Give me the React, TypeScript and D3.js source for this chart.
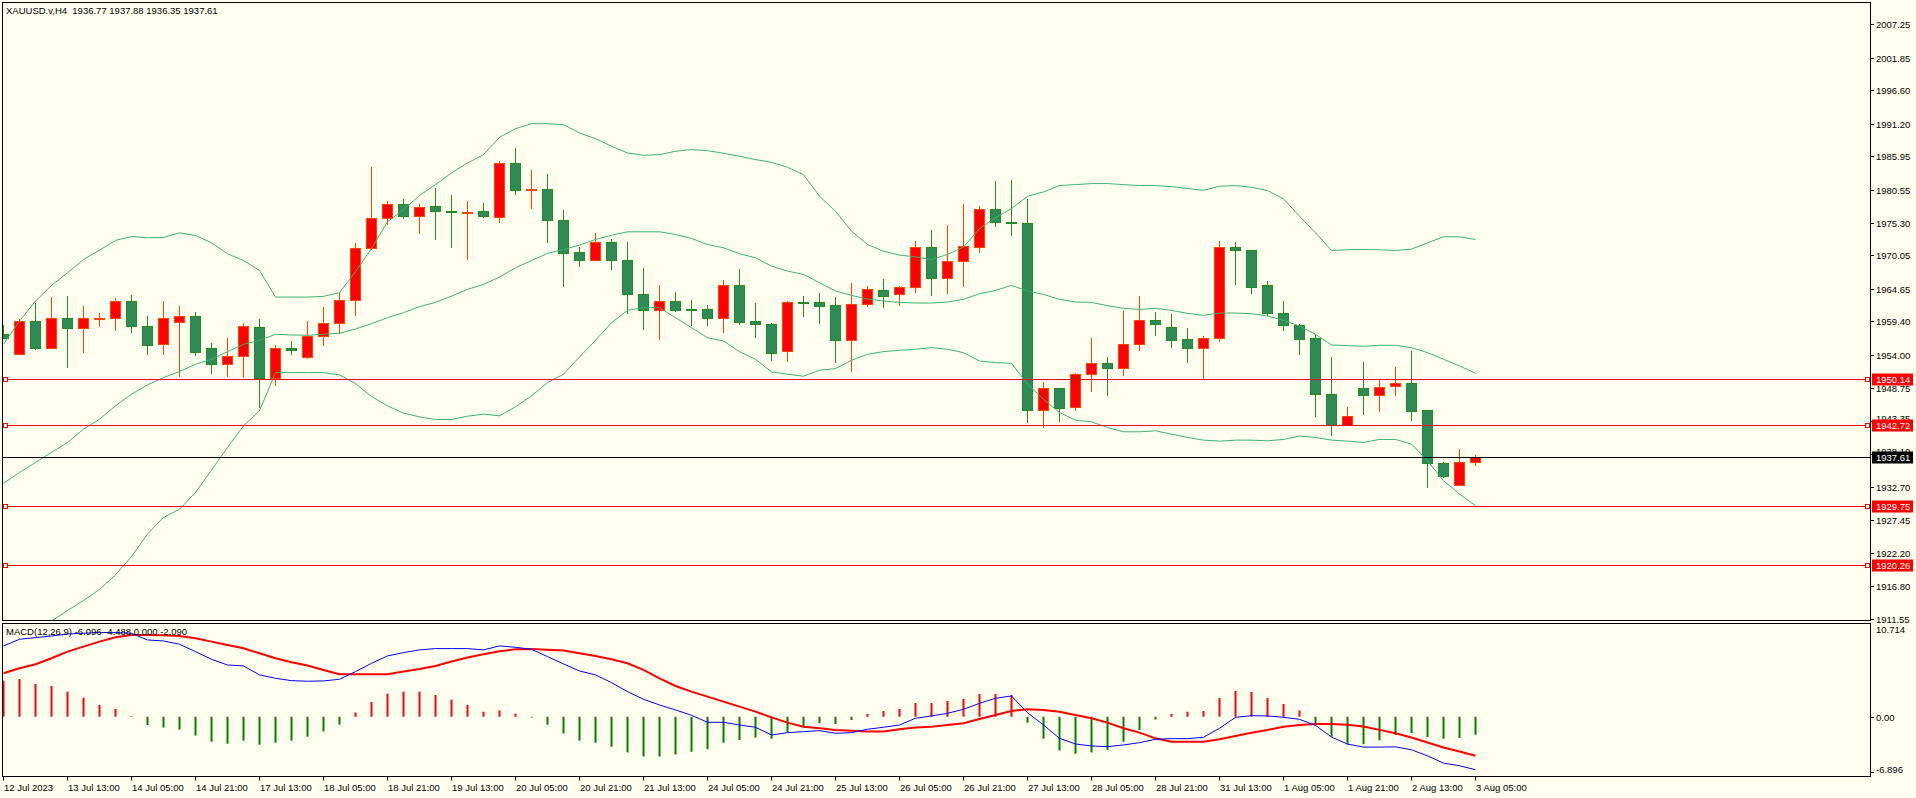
import React from 'react';
import * as d3 from 'd3';

const chartTitle = 'XAUUSD.v,H4  1936.77 1937.88 1936.35 1937.61';
const macdTitle = 'MACD(12,26,9) -6.096 -4.488 0.000 -2.090';

const opens = [1957.32,1954.21,1959.46,1955.17,1959.89,1958.39,1959.92,1959.89,1962.67,1958.60,
1955.82,1959.35,1960.21,1955.07,1952.50,1953.78,1958.49,1950.36,1955.12,1953.73,
1957.00,1959.08,1962.78,1971.13,1976.11,1978.36,1976.43,1978.04,1977.10,1976.95,
1977.13,1976.22,1984.84,1980.62,1980.77,1975.79,1970.49,1969.20,1972.10,1969.20,
1963.74,1961.28,1962.62,1961.40,1961.33,1959.89,1965.19,1959.40,1958.92,1954.58,
1962.50,1962.46,1961.97,1956.46,1962.14,1964.38,1963.74,1964.87,1971.29,1966.42,
1969.04,1971.29,1977.56,1975.40,1975.15,1945.11,1948.64,1945.59,1950.89,1952.66,
1951.85,1955.71,1959.57,1958.44,1956.51,1955.07,1956.67,1971.29,1970.81,1965.19,
1960.69,1958.76,1956.73,1947.68,1942.80,1948.64,1947.62,1948.96,1949.44,1945.11,
1936.59,1933.06,1936.77];
const highs = [1958.81,1959.73,1962.35,1963.31,1963.47,1961.87,1960.74,1963.21,1963.63,1960.26,
1962.67,1961.87,1960.96,1955.92,1956.73,1959.14,1959.78,1955.60,1956.25,1959.46,
1961.71,1964.01,1971.99,1984.20,1978.74,1979.06,1978.25,1980.82,1979.70,1978.74,
1978.41,1985.16,1987.25,1983.72,1983.07,1977.29,1971.35,1973.59,1972.63,1972.15,
1967.97,1965.24,1964.12,1962.83,1962.03,1966.04,1967.81,1962.35,1959.14,1962.67,
1963.47,1963.96,1963.31,1965.56,1965.08,1966.21,1965.08,1972.31,1974.08,1974.88,
1978.25,1977.93,1981.95,1982.11,1979.06,1949.66,1948.70,1951.10,1956.73,1953.68,
1961.06,1963.47,1960.90,1960.58,1958.33,1957.05,1972.31,1972.15,1970.85,1965.88,
1962.67,1958.98,1957.26,1953.68,1945.54,1952.87,1950.03,1952.07,1954.64,1945.20,
1936.81,1938.90,1937.88];
const lows = [1956.65,1954.21,1954.96,1955.10,1952.07,1954.53,1958.65,1958.07,1957.74,1954.21,
1954.21,1950.62,1954.00,1951.16,1950.62,1950.46,1945.54,1949.18,1954.21,1953.57,
1955.60,1957.48,1960.48,1971.10,1975.09,1976.06,1973.65,1972.68,1971.40,1969.47,
1976.22,1975.42,1979.91,1977.66,1972.20,1965.13,1968.35,1969.20,1967.87,1960.80,
1958.23,1956.62,1961.12,1958.87,1958.87,1957.74,1959.03,1956.94,1953.25,1953.09,
1960.31,1959.19,1952.93,1951.48,1961.87,1961.76,1962.08,1964.12,1963.69,1963.96,
1965.08,1970.54,1974.77,1973.33,1943.13,1942.48,1943.29,1945.21,1948.27,1947.57,
1950.78,1954.85,1957.26,1955.34,1952.93,1950.36,1956.30,1965.46,1964.01,1960.48,
1958.07,1954.21,1944.25,1941.04,1942.80,1944.57,1945.00,1947.62,1943.45,1932.68,
1934.29,1933.00,1936.35];
const closes = [1956.80,1959.46,1955.17,1959.89,1958.39,1959.89,1960.00,1962.67,1958.71,1955.66,
1959.89,1960.21,1954.53,1952.50,1953.78,1958.60,1950.36,1955.07,1954.75,1957.05,
1959.08,1962.78,1971.13,1976.11,1978.36,1976.38,1977.88,1977.08,1977.00,1977.05,
1976.38,1984.84,1980.56,1980.72,1975.79,1970.33,1969.20,1972.10,1969.20,1963.74,
1961.28,1962.62,1961.28,1961.30,1959.89,1965.19,1959.35,1958.92,1954.37,1962.46,
1962.40,1961.92,1956.46,1962.14,1964.55,1963.53,1964.87,1971.29,1966.42,1969.04,
1971.45,1977.56,1975.47,1975.31,1945.11,1948.64,1945.43,1950.89,1952.66,1951.85,
1955.71,1959.57,1959.03,1956.46,1955.07,1956.67,1971.29,1970.81,1964.97,1960.80,
1958.76,1956.62,1947.68,1942.80,1944.14,1947.62,1948.80,1949.44,1944.95,1936.59,
1934.51,1936.75,1937.61];

const bbUpper = [1955.71,1959.46,1962.67,1965.19,1967.22,1969.36,1970.86,1972.42,1973.06,1972.85,
1972.90,1973.65,1973.22,1972.04,1970.28,1969.20,1967.60,1963.31,1963.31,1963.31,
1963.42,1964.01,1967.38,1971.13,1975.42,1977.40,1979.65,1981.41,1983.29,1984.89,
1986.23,1989.02,1990.41,1991.21,1991.21,1991.05,1989.71,1988.80,1987.57,1986.50,
1986.13,1986.23,1986.77,1987.04,1986.87,1986.45,1985.96,1985.43,1985.00,1984.20,
1983.02,1979.54,1977.13,1973.92,1971.77,1970.70,1970.06,1969.79,1969.36,1970.17,
1971.35,1974.34,1976.06,1977.56,1979.54,1980.23,1981.25,1981.41,1981.57,1981.57,
1981.41,1981.25,1981.25,1981.09,1980.77,1980.50,1981.15,1981.25,1980.98,1980.45,
1979.11,1976.33,1973.65,1970.81,1970.92,1970.97,1970.92,1970.81,1971.02,1972.04,
1973.01,1973.01,1972.58];
const bbMiddle = [1933.33,1935.09,1936.70,1938.31,1939.91,1942.06,1943.66,1945.80,1947.68,1949.18,
1950.36,1951.32,1952.50,1953.30,1954.53,1955.71,1956.35,1957.32,1957.21,1957.16,
1957.32,1957.48,1958.17,1959.03,1959.99,1960.80,1961.76,1962.46,1963.47,1964.55,
1965.35,1966.53,1968.03,1969.20,1970.33,1970.97,1971.67,1972.58,1973.27,1973.81,
1973.81,1973.81,1973.38,1972.74,1971.77,1971.24,1970.28,1969.63,1968.29,1967.49,
1966.95,1965.62,1964.28,1963.58,1962.99,1962.67,1962.46,1962.35,1962.35,1962.51,
1962.94,1963.85,1964.38,1965.19,1964.28,1963.74,1962.94,1962.51,1962.46,1961.92,
1961.49,1961.33,1961.49,1961.17,1960.69,1960.37,1960.74,1960.74,1960.64,1960.26,
1959.57,1958.65,1957.32,1955.60,1955.50,1955.39,1955.55,1955.55,1955.17,1954.37,
1953.30,1952.23,1951.05];
const bbLower = [1909.12,1909.66,1910.30,1911.16,1912.87,1914.48,1916.25,1918.60,1921.55,1925.19,
1927.86,1929.15,1931.88,1935.47,1939.11,1942.59,1945.00,1951.16,1951.16,1951.16,
1951.16,1950.78,1949.39,1947.30,1945.80,1944.63,1944.04,1943.61,1943.61,1944.14,
1944.46,1944.20,1945.64,1947.41,1949.55,1950.89,1953.68,1956.35,1959.19,1961.17,
1961.60,1961.60,1959.99,1958.39,1956.78,1956.25,1954.53,1953.30,1951.27,1950.89,
1950.57,1951.53,1951.80,1953.14,1954.10,1954.53,1954.75,1954.91,1955.17,1954.91,
1954.37,1953.03,1952.76,1952.66,1949.28,1946.87,1944.73,1943.50,1943.23,1942.32,
1941.63,1941.63,1941.79,1941.25,1940.72,1940.29,1940.13,1940.29,1940.29,1940.18,
1940.40,1940.93,1940.72,1940.29,1940.13,1939.91,1940.40,1940.40,1939.65,1936.97,
1933.76,1931.61,1929.74];

const macdMain = [8.12,8.88,9.07,9.26,9.49,9.57,9.65,9.65,9.57,8.80,
8.69,8.31,7.46,6.58,5.93,5.82,4.79,4.40,4.13,4.06,
4.10,4.29,5.17,6.12,6.97,7.35,7.66,7.81,7.81,7.81,
7.66,8.12,7.96,7.73,6.89,6.05,5.24,4.79,3.90,2.87,
1.99,1.34,0.77,0.15,-0.65,-0.65,-0.96,-1.22,-2.11,-1.84,
-1.72,-1.61,-1.91,-1.84,-1.45,-1.22,-0.96,-0.19,0.08,0.38,
0.84,1.53,2.11,2.37,0.45,-0.96,-2.49,-3.14,-3.37,-3.45,
-3.25,-2.99,-2.60,-2.53,-2.53,-2.37,-1.34,-0.08,0.11,0.08,
-0.08,-0.31,-1.00,-2.35,-3.15,-3.50,-3.50,-3.47,-3.81,-4.50,
-5.34,-5.64,-6.096];
const macdSignal = [4.98,5.55,6.01,6.70,7.46,8.04,8.61,9.11,9.38,9.38,
9.34,9.26,9.00,8.61,8.23,7.85,7.27,6.70,6.24,5.86,
5.36,4.86,4.86,4.86,4.86,5.17,5.47,5.82,6.32,6.78,
7.16,7.50,7.73,7.77,7.69,7.58,7.27,6.97,6.58,6.12,
5.36,4.40,3.52,2.87,2.30,1.72,1.15,0.57,-0.08,-0.69,
-1.15,-1.34,-1.53,-1.61,-1.72,-1.72,-1.45,-1.26,-1.15,-0.96,
-0.77,-0.27,0.19,0.65,0.84,0.77,0.57,0.19,-0.19,-0.69,
-1.34,-1.84,-2.49,-2.87,-2.87,-2.87,-2.60,-2.22,-1.84,-1.53,
-1.15,-0.96,-0.84,-0.84,-0.93,-1.14,-1.52,-1.91,-2.40,-2.97,
-3.55,-4.00,-4.488];
const macdHist = [4.13,4.33,3.75,3.52,2.87,2.18,1.34,0.88,0.08,-0.96,
-1.26,-1.49,-2.18,-2.87,-3.10,-2.76,-3.22,-2.99,-2.76,-2.30,
-1.72,-0.92,0.46,1.68,2.64,2.87,2.87,2.49,1.95,1.34,
0.57,0.69,0.34,-0.11,-0.92,-1.95,-2.76,-2.99,-3.45,-4.13,
-4.59,-4.59,-4.36,-4.02,-3.75,-2.99,-2.68,-2.41,-2.53,-1.76,
-1.22,-0.77,-0.84,-0.38,0.31,0.65,0.88,1.57,1.57,1.80,
2.03,2.60,2.60,2.49,-0.69,-2.53,-3.90,-4.25,-4.13,-3.79,
-2.87,-1.53,-0.34,0.31,0.57,0.65,2.14,2.95,2.83,2.14,
1.45,0.69,-0.73,-2.30,-3.20,-3.18,-2.72,-2.10,-1.87,-2.33,
-2.55,-2.44,-2.090];

const timeLabels = ['12 Jul 2023','13 Jul 13:00','14 Jul 05:00','14 Jul 21:00','17 Jul 13:00','18 Jul 05:00',
'18 Jul 21:00','19 Jul 13:00','20 Jul 05:00','20 Jul 21:00','21 Jul 13:00','24 Jul 05:00','24 Jul 21:00',
'25 Jul 13:00','26 Jul 05:00','26 Jul 21:00','27 Jul 13:00','28 Jul 05:00','28 Jul 21:00','31 Jul 13:00',
'1 Aug 05:00','1 Aug 21:00','2 Aug 13:00','3 Aug 05:00'];
const timeLabelBars = [0,4,8,12,16,20,24,28,32,36,40,44,48,52,56,60,64,68,72,76,80,84,88,92];

const priceTicks = ['2007.25','2001.85','1996.60','1991.20','1985.95','1980.55','1975.30','1970.05','1964.65',
'1959.40','1954.00','1948.75','1943.35','1938.10','1932.70','1927.45','1922.20','1916.80','1911.55'];
const levelLines = [1950.14, 1942.72, 1929.75, 1920.26];
const bidPrice = 1937.61;
const macdMax = 10.714;
const macdMin = -6.896;

const FONT = '"Liberation Sans", Arial, sans-serif';
const BG = '#FFFFF0';
const BULL_FILL = '#FF0000';
const BULL_LINE = '#FF4500';
const BEAR_FILL = '#2E8B57';
const BEAR_LINE = '#228B22';
const BAND = '#3CB371';

export default function App() {
  const W = 1916, H = 798;
  const L = 2.5, R = 1870.5;
  const mainTop = 2.5, mainBot = 620.5;
  const macdTop = 623.5, macdBot = 776.5;

  const idx = d3.range(closes.length);
  const xs = d3.scaleLinear().domain([0, closes.length - 1]).range([3.3, 1475.3]);
  const y = d3.scaleLinear().domain([1911.23, 2010.68]).range([620.7, 2.7]);
  const ym = d3.scaleLinear().domain([macdMin, macdMax]).range([776.7, 623.3]);
  const cx = (i: number) => Math.floor(xs(i)) + 0.5;
  const cy = (v: number) => Math.round(y(v)) + 0.5;

  const bandLine = (arr: number[]) =>
    d3.line<number>().x((i) => cx(i)).y((i) => y(arr[i]))(idx) || '';
  const macdLine = (arr: number[]) =>
    d3.line<number>().x((i) => cx(i)).y((i) => ym(arr[i]))(idx) || '';

  const txt = { fontFamily: FONT, fontSize: 9.5, fill: '#000' } as const;
  const hiddenTicks = new Set(['1943.35', '1938.10']);

  return (
    <svg width={W} height={H} style={{ position: 'absolute', left: 0, top: 0, display: 'block' }}>
      <defs>
        <clipPath id="mainClip"><rect x={L} y={mainTop} width={R - L} height={mainBot - mainTop} /></clipPath>
        <clipPath id="macdClip"><rect x={L} y={macdTop} width={R - L} height={macdBot - macdTop} /></clipPath>
      </defs>
      <rect x={0} y={0} width={W} height={H} fill={BG} />

      {/* main panel */}
      <g clipPath="url(#mainClip)">
        {idx.map((i) => {
          const o = opens[i], c = closes[i];
          const up = c > o;
          const x = cx(i);
          const top = Math.round(y(Math.max(o, c))) + 0.5;
          const bot = Math.max(top + 1, Math.round(y(Math.min(o, c))) + 0.5);
          return (
            <g key={i}>
              <line x1={x} x2={x} y1={Math.round(y(highs[i]))} y2={Math.round(y(lows[i])) + 1}
                stroke={up ? BULL_LINE : BEAR_LINE} strokeWidth={1} />
              <rect x={x - 5} y={top} width={10} height={bot - top}
                fill={up ? BULL_FILL : BEAR_FILL} stroke={up ? BULL_LINE : BEAR_LINE} strokeWidth={1} />
            </g>
          );
        })}
        {[bbUpper, bbMiddle, bbLower].map((arr, j) => (
          <path key={j} d={bandLine(arr)} fill="none" stroke={BAND} strokeWidth={1} />
        ))}
        {levelLines.map((p) => (
          <line key={p} x1={L} x2={R} y1={cy(p)} y2={cy(p)} stroke="#FF0000" strokeWidth={1} />
        ))}
        <line x1={L} x2={R} y1={cy(bidPrice)} y2={cy(bidPrice)} stroke="#000" strokeWidth={1} />
      </g>
      {levelLines.map((p) => (
        <g key={'sq' + p}>
          <rect x={3.5} y={cy(p) - 2} width={4} height={4} fill={BG} stroke="#FF0000" strokeWidth={1} />
          <rect x={R - 5} y={cy(p) - 2} width={4} height={4} fill={BG} stroke="#FF0000" strokeWidth={1} />
        </g>
      ))}
      <text x={6} y={14} style={{ whiteSpace: 'pre' }} {...txt}>{chartTitle}</text>

      {/* price axis */}
      {priceTicks.map((t) => {
        const yy = cy(+t);
        return (
          <g key={t}>
            <line x1={R} x2={R + 3.5} y1={yy} y2={yy} stroke="#000" />
            <text x={1876} y={hiddenTicks.has(t) ? yy - 3 : yy} dy="0.35em" {...txt}>{t}</text>
          </g>
        );
      })}
      {levelLines.map((p) => (
        <g key={'lb' + p}>
          <rect x={1872} y={cy(p) - 6} width={41} height={12} fill="#FF0000" />
          <text x={1876} y={cy(p)} dy="0.35em" {...txt} fill="#FFFFFF">{p.toFixed(2)}</text>
        </g>
      ))}
      <rect x={1872} y={cy(bidPrice) - 6} width={41} height={12} fill="#000" />
      <text x={1876} y={cy(bidPrice)} dy="0.35em" {...txt} fill="#FFFFFF">{bidPrice.toFixed(2)}</text>

      {/* MACD panel */}
      <g clipPath="url(#macdClip)">
        {idx.map((i) => {
          const v = macdHist[i];
          const x = Math.floor(xs(i)) + 0.5;
          return (
            <line key={i} x1={x} x2={x} y1={ym(0)} y2={ym(v)}
              stroke={v >= 0 ? '#FF0000' : '#008000'} strokeWidth={2} />
          );
        })}
        <path d={macdLine(macdSignal)} fill="none" stroke="#FF0000" strokeWidth={2} />
        <path d={macdLine(macdMain)} fill="none" stroke="#0000FF" strokeWidth={1} />
      </g>
      <text x={6} y={635} {...txt} fill="#000">{macdTitle}</text>
      <text x={1876} y={630} dy="0.35em" {...txt}>{macdMax.toFixed(3)}</text>
      <line x1={R} x2={R + 3.5} y1={Math.round(ym(0)) + 0.5} y2={Math.round(ym(0)) + 0.5} stroke="#000" />
      <text x={1876} y={Math.round(ym(0)) + 0.5} dy="0.35em" {...txt}>0.00</text>
      <line x1={R} x2={R + 3.5} y1={772.5} y2={772.5} stroke="#000" />
      <text x={1876} y={770} dy="0.35em" {...txt}>{macdMin.toFixed(3)}</text>

      {/* borders */}
      <rect x={L} y={mainTop} width={R - L} height={mainBot - mainTop} fill="none" stroke="#000" strokeWidth={1} />
      <rect x={L} y={macdTop} width={R - L} height={macdBot - macdTop} fill="none" stroke="#000" strokeWidth={1} />

      {/* time axis */}
      {timeLabels.map((t, j) => {
        const x = cx(timeLabelBars[j]);
        return (
          <g key={t}>
            <line x1={x} x2={x} y1={macdBot} y2={macdBot + 4} stroke="#000" />
            <text x={x + 0.5} y={790.5} {...txt}>{t}</text>
          </g>
        );
      })}
    </svg>
  );
}
